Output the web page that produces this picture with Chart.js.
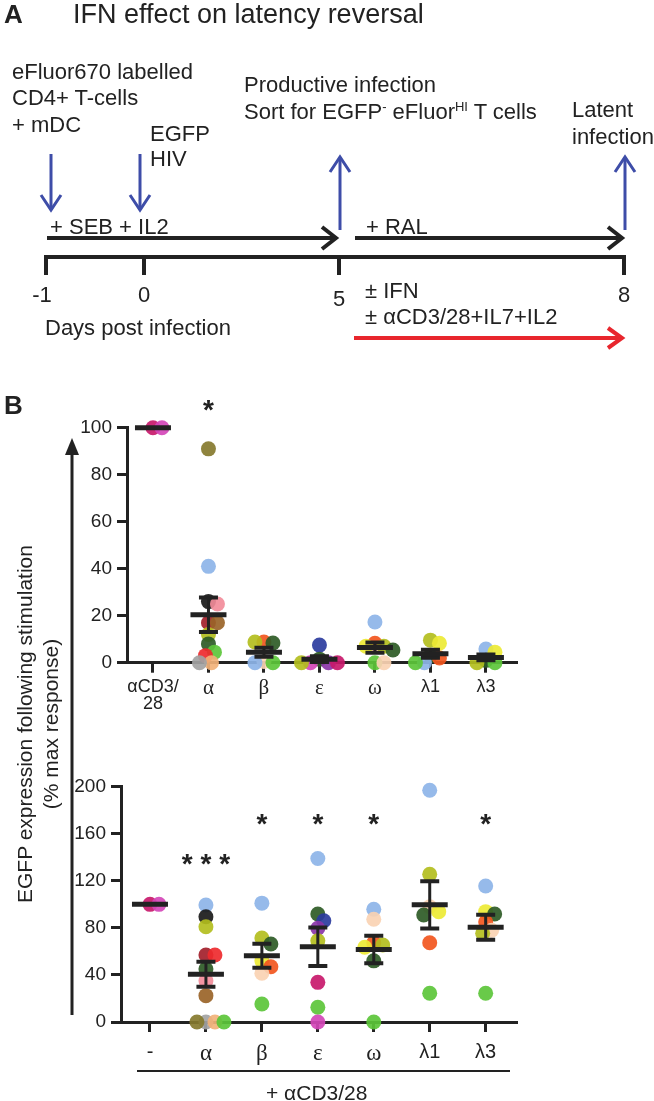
<!DOCTYPE html>
<html>
<head>
<meta charset="utf-8">
<script src="https://cdn.jsdelivr.net/npm/chart.js@4.4.0/dist/chart.umd.min.js"></script>
<style>
  body { margin: 0; background: #fff; }
  #page { position: relative; width: 654px; height: 1101px; overflow: hidden;
          font-family: "Liberation Sans", Arial, sans-serif; color: #222; }
  #page canvas { position: absolute; left: 0; }
  .t { position: absolute; white-space: nowrap; font-size: 22px; line-height: 22px; }
  .c { text-align: center; width: 60px; }
  .rot { position: absolute; width: 420px; text-align: center; font-size: 21px; line-height: 22px;
         white-space: nowrap; transform: rotate(-90deg); }
  sup { font-size: 13px; vertical-align: 8px; line-height: 0; }
</style>
</head>
<body>
<div id="page">
  <canvas id="overlay" width="654" height="1101" style="top:0"></canvas>
  <canvas id="topChart" width="654" height="340" style="top:380px"></canvas>
  <canvas id="botChart" width="654" height="340" style="top:740px"></canvas>

  <div class="t" style="left:4px;top:1px;font-size:26px;line-height:26px;font-weight:bold">A</div>
  <div class="t" style="left:73px;top:1px;font-size:27px;line-height:27px">IFN effect on latency reversal</div>

  <div class="t" style="left:12px;top:61px">eFluor670 labelled</div>
  <div class="t" style="left:12px;top:87px">CD4+ T-cells</div>
  <div class="t" style="left:12px;top:114px">+ mDC</div>
  <div class="t" style="left:150px;top:123px">EGFP</div>
  <div class="t" style="left:150px;top:148px">HIV</div>
  <div class="t" style="left:244px;top:74px">Productive infection</div>
  <div class="t" style="left:244px;top:101px">Sort for EGFP<sup>-</sup> eFluor<sup>HI</sup> T cells</div>
  <div class="t" style="left:572px;top:99px">Latent</div>
  <div class="t" style="left:572px;top:126px">infection</div>
  <div class="t" style="left:50px;top:216px">+ SEB + IL2</div>
  <div class="t" style="left:366px;top:216px">+ RAL</div>
  <div class="t c" style="left:12px;top:284px">-1</div>
  <div class="t c" style="left:114px;top:284px">0</div>
  <div class="t c" style="left:309px;top:288px">5</div>
  <div class="t c" style="left:594px;top:284px">8</div>
  <div class="t" style="left:365px;top:280px">± IFN</div>
  <div class="t" style="left:365px;top:306px">± αCD3/28+IL7+IL2</div>
  <div class="t" style="left:45px;top:317px">Days post infection</div>

  <div class="t" style="left:4px;top:392px;font-size:26px;line-height:26px;font-weight:bold">B</div>

  <div class="rot" style="left:-185px;top:713px">EGFP expression following stimulation</div>
  <div class="rot" style="left:-159px;top:713px">(% max response)</div>

  <div class="t" style="left:266px;top:1082px;font-size:21px">+ αCD3/28</div>
</div>

<script>
// ---- data ----
const topCats = [["αCD3/", "28"], "α", "β", "ε", "ω", "λ1", "λ3"];
const topTicks = [0, 20, 40, 60, 80, 100];
const topValues = [
  [100, 100],
  [91, 41, 26, 25, 17, 17, 12, 8, 4.5, 3, 0, 0],
  [8.8, 8.4, 8.8, 0.5, 0, 0],
  [7.5, 1.5, 0, 0, 0, 0],
  [17.3, 8.3, 7, 7, 5.4, 0, 0],
  [9.6, 8.3, 3, 2, 0, 0],
  [5.8, 4.5, 1, 0, 0]
];
const topDonors = [
  ["crimson", "magenta"],
  ["olive", "lightblue", "black", "pink", "darkred", "brown", "oliveyellow", "darkgreen", "green", "red", "tan", "gray"],
  ["orange", "darkgreen", "oliveyellow", "peach", "green", "lightblue"],
  ["navy", "darkgreen", "purple", "magenta", "crimson", "oliveyellow"],
  ["lightblue", "orange", "oliveyellow", "yellow", "darkgreen", "green", "peach"],
  ["oliveyellow", "yellow", "darkgreen", "orange", "lightblue", "green"],
  ["lightblue", "yellow", "darkgreen", "green", "oliveyellow"]
];
const topStars = ["", "*", "", "", "", "", ""];

const botCats = ["-", "α", "β", "ε", "ω", "λ1", "λ3"];
const botTicks = [0, 40, 80, 120, 160, 200];
const botValues = [
  [100, 100],
  [99.4, 89.5, 81, 57, 57, 45, 35, 22.4, 0, 0, 0, 0],
  [101, 71.4, 66.3, 52, 47, 41.4, 15.3],
  [139, 91.8, 86, 79.7, 69, 33.7, 12.5, 0],
  [95.8, 87.3, 67.4, 65.5, 63.5, 52, 0],
  [197, 125.5, 98, 93.8, 91, 67.4, 24.4],
  [115.6, 93.8, 91.8, 85, 78, 75.4, 24.4]
];
const botDonors = [
  ["crimson", "magenta"],
  ["lightblue", "black", "oliveyellow", "darkred", "red", "darkgreen", "pink", "brown", "gray", "tan", "olive", "green"],
  ["lightblue", "oliveyellow", "darkgreen", "yellow", "orange", "peach", "green"],
  ["lightblue", "darkgreen", "navy", "purple", "oliveyellow", "crimson", "green", "magenta"],
  ["lightblue", "peach", "orange", "oliveyellow", "yellow", "darkgreen", "green"],
  ["lightblue", "oliveyellow", "peach", "yellow", "darkgreen", "orange", "green"],
  ["lightblue", "yellow", "darkgreen", "orange", "peach", "oliveyellow", "green"]
];
const botStars = ["", "***", "*", "*", "*", "", "*"];

const palette = {
  lightblue: "#8DB4E8", olive: "#857A2E", pink: "#F28C9A", black: "#1A1A1A",
  darkred: "#A31F2B", brown: "#9A6428", oliveyellow: "#B3BE1E", darkgreen: "#2E5B26",
  green: "#5CC63A", red: "#EE2A2E", tan: "#F2B27A", orange: "#F2561E",
  purple: "#8A35A8", navy: "#2B3C9E", crimson: "#C8196B", magenta: "#D447B8",
  yellow: "#EDEA35", peach: "#FAD3B3", gray: "#A3A3A3"
};

Chart.defaults.font.family = '"Liberation Sans", Arial, sans-serif';
Chart.defaults.color = "#222";

function rgba(hex, a) {
  const n = parseInt(hex.slice(1), 16);
  return `rgba(${n >> 16},${(n >> 8) & 255},${n & 255},${a})`;
}

// spread overlapping dots sideways (column scatter), in pixel space
function swarm(vals, pxX, pxY) {
  const placed = [];
  return vals.map(v => {
    const py = v * pxY;
    for (let k = 0; k < 60; k++) {
      const off = (k === 0 ? 0 : (k % 2 ? 1 : -1) * Math.ceil(k / 2)) * 3;
      if (placed.every(p => Math.hypot(p.x - off, p.y - py) >= 9)) {
        placed.push({ x: off, y: py });
        return off / pxX;
      }
    }
    return 0;
  });
}

const meanSem = {
  id: "meanSem",
  afterDatasetsDraw(chart, args, opts) {
    const { ctx, scales: { x, y } } = chart;
    ctx.save();
    ctx.strokeStyle = "#222";
    opts.values.forEach((vals, i) => {
      const n = vals.length;
      const m = vals.reduce((a, b) => a + b, 0) / n;
      const sd = Math.sqrt(vals.reduce((a, b) => a + (b - m) ** 2, 0) / (n - 1));
      const sem = sd / Math.sqrt(n);
      const cx = x.getPixelForValue(i);
      const yt = y.getPixelForValue(m + sem), yb = y.getPixelForValue(m - sem);
      if (sem > 0) {
        ctx.lineWidth = 3;
        ctx.beginPath(); ctx.moveTo(cx, yt); ctx.lineTo(cx, yb); ctx.stroke();
        ctx.lineWidth = 4;
        ctx.beginPath();
        ctx.moveTo(cx - 9.5, yt); ctx.lineTo(cx + 9.5, yt);
        ctx.moveTo(cx - 9.5, yb); ctx.lineTo(cx + 9.5, yb);
        ctx.stroke();
      }
      ctx.lineWidth = 5;
      const ym = y.getPixelForValue(m);
      ctx.beginPath(); ctx.moveTo(cx - 18, ym); ctx.lineTo(cx + 18, ym); ctx.stroke();
    });
    // significance stars
    ctx.fillStyle = "#222";
    ctx.font = 'bold 28px "Liberation Sans", Arial, sans-serif';
    ctx.textAlign = "center";
    ctx.textBaseline = "alphabetic";
    opts.stars.forEach((s, i) => {
      if (!s) return;
      const cx = x.getPixelForValue(i);
      const cy = y.getPixelForValue(opts.starLevel[s]) + 16;
      const sp = 18.7;
      [...s].forEach((ch, j) => ctx.fillText(ch, cx + (j - (s.length - 1) / 2) * sp, cy));
    });
    ctx.restore();
  }
};

function makePanel(id, cats, ticks, values, donors, stars, cfg) {
  const pxX = (cfg.right - cfg.left) / (cfg.xMax - cfg.xMin);
  const pxY = (cfg.bottom - cfg.top) / cfg.yMax;
  const pts = [], cols = [];
  values.forEach((vals, i) => {
    const offs = swarm(vals, pxX, pxY);
    vals.forEach((v, j) => {
      pts.push({ x: i + offs[j], y: v });
      cols.push(rgba(palette[donors[i][j]], 0.92));
    });
  });
  const canvasTop = cfg.canvasTop, canvasH = 340;
  const axisStyle = {
    grid: { drawOnChartArea: false, drawTicks: true, tickLength: 10, tickWidth: 3, tickColor: "#222" },
    border: { display: true, width: 3, color: "#222" }
  };
  return new Chart(document.getElementById(id), {
    type: "scatter",
    data: { datasets: [{ data: pts, backgroundColor: cols, pointRadius: 7.5, pointHoverRadius: 7.5,
                         borderWidth: 0, clip: false }] },
    options: {
      responsive: false, animation: false,
      layout: { padding: { left: 0, top: cfg.top - canvasTop, right: 654 - cfg.right, bottom: 0 } },
      plugins: {
        legend: { display: false }, tooltip: { enabled: false },
        meanSem: { values, stars, starLevel: cfg.starLevel }
      },
      scales: {
        x: Object.assign({
          type: "linear", min: cfg.xMin, max: cfg.xMax,
          afterBuildTicks: s => { s.ticks = cats.map((_, i) => ({ value: i })); },
          afterFit: s => { s.height = canvasTop + canvasH - cfg.bottom; },
          ticks: {
            autoSkip: false, maxRotation: 0, padding: cfg.xPad, color: "#222",
            callback: v => cats[v],
            font: c => {
              const lab = cats[c.index];
              const greek = typeof lab === "string" && /^[α-ω]$/.test(lab);
              return { family: greek ? '"Liberation Serif", serif' : '"Liberation Sans", Arial, sans-serif',
                       size: greek ? cfg.xFont + 3 : cfg.xFont, lineHeight: 0.95 };
            }
          }
        }, axisStyle),
        y: Object.assign({
          min: 0, max: cfg.yMax,
          afterBuildTicks: s => { s.ticks = ticks.map(v => ({ value: v })); },
          afterFit: s => { s.width = cfg.left; },
          ticks: { padding: 5, color: "#222", font: { size: 19 } }
        }, axisStyle)
      }
    },
    plugins: [meanSem]
  });
}

makePanel("topChart", topCats, topTicks, topValues, topDonors, topStars, {
  canvasTop: 380, left: 127, right: 517, top: 427.7, bottom: 662.7,
  xMin: -0.468, xMax: 6.56, yMax: 100, xPad: 6, xFont: 18, starLevel: { "*": 110.5 }
});
makePanel("botChart", botCats, botTicks, botValues, botDonors, botStars, {
  canvasTop: 740, left: 121, right: 517, top: 786.7, bottom: 1022,
  xMin: -0.518, xMax: 6.56, yMax: 200, xPad: 11, xFont: 20, starLevel: { "*": 174, "***": 140 }
});

// ---- schematic arrows and axis decorations ----
const g = document.getElementById("overlay").getContext("2d");
g.lineCap = "butt";
function arrow(x1, y1, x2, y2, color, w, back, spread) {
  const a = Math.atan2(y2 - y1, x2 - x1);
  g.strokeStyle = color; g.lineWidth = w;
  g.beginPath(); g.moveTo(x1, y1); g.lineTo(x2, y2); g.stroke();
  const bx = x2 - back * Math.cos(a), by = y2 - back * Math.sin(a);
  const nx = -Math.sin(a) * spread, ny = Math.cos(a) * spread;
  g.beginPath();
  g.moveTo(bx + nx, by + ny); g.lineTo(x2, y2); g.lineTo(bx - nx, by - ny);
  g.stroke();
}
const blue = "#3E4DA8", black = "#222", red = "#E8262D";
arrow(51, 154, 51, 210, blue, 3, 15, 10);
arrow(140, 154, 140, 210, blue, 3, 15, 10);
arrow(340, 230, 340, 157, blue, 3, 15, 10);
arrow(625, 230, 625, 157, blue, 3, 15, 10);
arrow(47, 238, 336, 238, black, 4, 14, 11);
arrow(355, 238, 622, 238, black, 4, 14, 11);
arrow(354, 338, 622, 338, red, 4, 14, 10);

g.strokeStyle = black; g.lineWidth = 4;
g.beginPath();
g.moveTo(44, 257); g.lineTo(626, 257);
[46, 144, 339, 624].forEach(x => { g.moveTo(x, 257); g.lineTo(x, 275); });
g.stroke();

// y-title arrow for panel B
g.lineWidth = 3;
g.beginPath(); g.moveTo(72, 1015); g.lineTo(72, 452); g.stroke();
g.fillStyle = black;
g.beginPath(); g.moveTo(72, 438); g.lineTo(79, 455); g.lineTo(65, 455); g.closePath(); g.fill();

// underline for the "+ aCD3/28" group
g.lineWidth = 2;
g.beginPath(); g.moveTo(137, 1071); g.lineTo(510, 1071); g.stroke();
</script>
</body>
</html>
